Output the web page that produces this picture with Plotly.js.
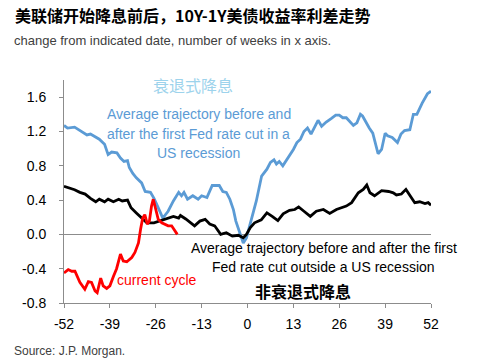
<!DOCTYPE html>
<html>
<head>
<meta charset="utf-8">
<script src="https://cdn.plot.ly/plotly-3.0.1.min.js"></script>
<style>
html,body{margin:0;padding:0;background:#fff;}
#chart{width:481px;height:364px;}
</style>
</head>
<body>
<div id="chart"></div>
<script>
// Recession-cut average trajectory (blue)
const recWeeks = [-52,-51,-49,-47,-45.5,-44.5,-43,-42,-40.5,-39.5,-38.5,-37,-36,-35,-34,-33.5,-32.5,-31.5,-30,-29,-27.5,-26.5,-25.5,-24,-22.5,-21,-19.5,-18.7,-18,-17,-15.5,-14,-13,-11.5,-10,-8,-7,-6,-5,-4,-3.3,-2.3,-1.2,-0.3,1,2.5,4,5.5,6.5,7.5,8.2,9,10,11.5,13,14,15,16,17,18,19,20,21,22.3,23.7,25,26,27,28,29,30,31,32,32.6,33.6,34.5,35.5,36.2,37,38,39,39.7,41,42.5,43.5,44.5,46,47,48,49.5,51,52];
const recValues = [1.27,1.24,1.25,1.20,1.16,1.17,1.13,1.11,1.05,0.93,0.96,0.95,0.89,0.85,0.86,0.78,0.71,0.66,0.60,0.50,0.49,0.42,0.33,0.19,0.27,0.39,0.49,0.45,0.49,0.41,0.45,0.41,0.45,0.43,0.57,0.57,0.50,0.49,0.41,0.29,0.155,0.02,-0.10,-0.04,0.155,0.39,0.68,0.76,0.84,0.87,0.82,0.85,0.80,0.89,0.99,1.07,1.11,1.20,1.24,1.17,1.26,1.33,1.26,1.31,1.35,1.39,1.39,1.36,1.36,1.32,1.27,1.30,1.40,1.38,1.30,1.24,1.18,1.07,0.94,0.99,1.18,1.15,1.13,1.07,1.17,1.21,1.22,1.40,1.40,1.53,1.64,1.67];

// Non-recession-cut average trajectory (black)
const nonRecWeeks = [-52,-50.5,-49,-47.5,-46,-44.5,-43,-42,-40.5,-39.5,-38,-36.5,-35.5,-34,-33,-31.5,-30,-28.5,-26.5,-25,-23,-21,-19.5,-19,-17.5,-15,-13.5,-12,-10.7,-9.3,-7.6,-6,-4.3,-2.6,-1.2,-0.3,0.8,2,3.9,5.5,7,8.6,10.1,11.9,13.4,14.5,16,17.8,19.5,21.5,23.3,25.2,28,29.5,31.4,32.8,33.8,34.7,36,38,40,41.3,42.2,43.6,44.9,46,47.4,48.8,50.3,51.2,52];
const nonRecValues = [0.56,0.54,0.52,0.49,0.47,0.42,0.38,0.41,0.38,0.41,0.38,0.41,0.39,0.40,0.31,0.25,0.19,0.135,0.135,0.155,0.19,0.21,0.19,0.22,0.18,0.10,0.155,0.175,0.12,0.10,0.0,0.02,-0.02,-0.01,-0.04,0.0,0.08,0.135,0.17,0.25,0.21,0.16,0.24,0.28,0.29,0.32,0.27,0.21,0.27,0.29,0.245,0.29,0.33,0.37,0.485,0.525,0.575,0.485,0.45,0.51,0.50,0.485,0.46,0.47,0.525,0.45,0.37,0.38,0.36,0.37,0.34];

// Current cycle (red)
const curWeeks = [-52,-50.8,-49.8,-48.9,-47.5,-46.1,-45.1,-44.2,-43.2,-42.6,-41.6,-40.9,-39.9,-39,-38,-37.1,-36,-35.2,-34.2,-32.8,-31.9,-30.9,-30.3,-29.7,-29.1,-28.4,-27.8,-27.2,-26.7,-25.9,-25.3,-24.3,-23.4,-22.5,-21.5,-20.6,-19.9];
const curValues = [-0.45,-0.41,-0.43,-0.43,-0.56,-0.64,-0.55,-0.56,-0.66,-0.68,-0.51,-0.60,-0.63,-0.60,-0.49,-0.40,-0.23,-0.31,-0.32,-0.27,-0.21,-0.10,0.06,0.19,0.23,0.12,0.155,0.33,0.41,0.29,0.175,0.135,0.12,0.10,0.10,0.04,0.0];

const xTicks = [-52,-39,-26,-13,0,13,26,39,52];
const yTicks = [-0.8,-0.4,0.0,0.4,0.8,1.2,1.6];
const yTickText = ['-0.8','-0.4','0.0','0.4','0.8','1.2','1.6'];

const FONT = '"Liberation Sans", Arial, sans-serif';
const CJK = '"Noto Sans CJK SC", "Liberation Sans", sans-serif';

const traces = [
  {x: recWeeks, y: recValues, type: 'scatter', mode: 'lines',
   line: {color: '#5b9bd5', width: 2.8}, hoverinfo: 'skip'},
  {x: nonRecWeeks, y: nonRecValues, type: 'scatter', mode: 'lines',
   line: {color: '#000000', width: 2.8}, hoverinfo: 'skip'},
  {x: curWeeks, y: curValues, type: 'scatter', mode: 'lines',
   line: {color: '#ff0000', width: 2.8}, hoverinfo: 'skip'}
];

function ann(text, x, y, color, size, family, extra) {
  return Object.assign({xref: 'paper', yref: 'paper', x: x, y: y, text: text,
    showarrow: false, xanchor: 'center', yanchor: 'middle',
    font: {family: family || FONT, size: size, color: color}}, extra || {});
}
// pixel helpers (plot area: x 64..431, y 80..302.7)
const L = 64, R = 431, T = 80, B = 302.7;
const px = v => (v - L) / (R - L);
const py = v => (B - v) / (B - T);

const annotations = [
  ann('<b>美联储开始降息前后，10Y-1Y美债收益率利差走势</b>', px(13), py(15), '#000', 16, CJK, {xanchor: 'left'}),
  ann('change from indicated date, number of weeks in x axis.', px(12), py(41), '#404040', 13, FONT, {xanchor: 'left'}),
  ann('Source: J.P. Morgan.', px(12), py(351), '#404040', 12, FONT, {xanchor: 'left'}),
  ann('衰退式降息', px(193), py(85), '#9dd3ec', 16, CJK),
  ann('Average trajectory before and', px(198.5), py(114), '#5b9bd5', 14),
  ann('after the first Fed rate cut in a', px(198.5), py(134), '#5b9bd5', 14),
  ann('US recession', px(198.5), py(153), '#5b9bd5', 14),
  ann('Average trajectory before and after the first', px(323.5), py(248), '#000', 14),
  ann('Fed rate cut outside a US recession', px(323.5), py(267), '#000', 14),
  ann('current cycle', px(157), py(280), '#ff0000', 14),
  ann('<b>非衰退式降息</b>', px(302.5), py(291), '#000', 16, CJK,
      {bgcolor: '#ffffff', width: 110, height: 22, borderpad: 0})
];

const layout = {
  width: 481, height: 364,
  margin: {l: L, r: 481 - R, t: T, b: 364 - B},
  paper_bgcolor: '#ffffff', plot_bgcolor: '#ffffff',
  showlegend: false,
  font: {family: FONT, size: 14, color: '#000'},
  xaxis: {
    range: [-52, 52], tickvals: xTicks, ticktext: xTicks.map(String),
    showgrid: false, zeroline: false,
    showline: true, linecolor: '#8c8c8c', linewidth: 1,
    ticks: 'outside', ticklen: 4, tickcolor: '#8c8c8c',
    ticklabelstandoff: 4,
    tickfont: {family: FONT, size: 14, color: '#000'}
  },
  yaxis: {
    range: [-0.8, 1.8], tickvals: yTicks, ticktext: yTickText,
    showgrid: false, zeroline: true, zerolinecolor: '#8c8c8c', zerolinewidth: 1,
    showline: true, linecolor: '#8c8c8c', linewidth: 1,
    ticks: 'outside', ticklen: 4, tickcolor: '#8c8c8c',
    ticklabelstandoff: 10,
    tickfont: {family: FONT, size: 14, color: '#000'}
  },
  annotations: annotations
};

Plotly.newPlot('chart', traces, layout, {staticPlot: true, displayModeBar: false});
</script>
</body>
</html>
